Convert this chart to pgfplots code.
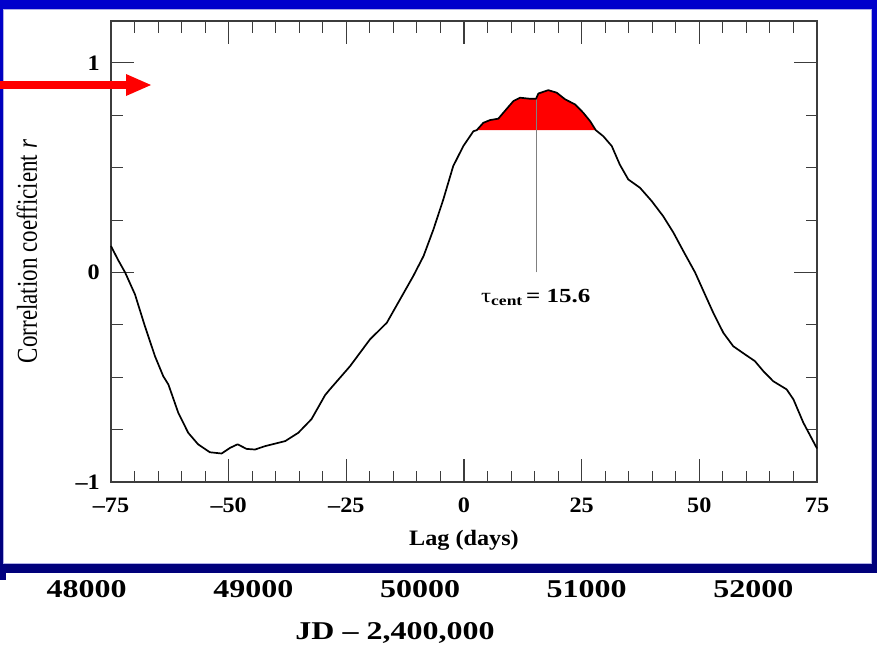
\documentclass[border=0pt]{standalone}
\usepackage{fontspec}
\setmainfont{Liberation Serif}[FakeStretch=1.25]
\newfontfamily\yfont{Liberation Serif}
\newfontfamily\axfont{Liberation Serif}[FakeStretch=1.1]
\usepackage{graphicx}
\usepackage{pgfplots}
\pgfplotsset{compat=1.18}
\definecolor{frametop}{RGB}{0,0,204}
\definecolor{framebot}{RGB}{0,0,122}
\definecolor{framenavy}{RGB}{0,0,128}
\definecolor{axgray}{RGB}{60,60,60}
\pgfplotstableread{
lag r
-75 0.126
-73.5 0.06
-72.0 0.0
-69.9 -0.105
-67.8 -0.256
-65.65 -0.40
-63.9 -0.495
-62.8 -0.535
-60.7 -0.67
-58.6 -0.765
-56.5 -0.82
-54.0 -0.858
-51.5 -0.864
-49.7 -0.837
-48.1 -0.82
-46.2 -0.842
-44.4 -0.845
-42.3 -0.829
-38.0 -0.805
-35.2 -0.765
-32.4 -0.70
-29.5 -0.585
-28.5 -0.558
-24.2 -0.447
-20.0 -0.32
-16.4 -0.24
-13.6 -0.129
-10.8 -0.018
-8.6 0.078
-6.5 0.205
-4.4 0.348
-2.3 0.507
-0.15 0.603
2.0 0.674
2.7 0.679
4.1 0.714
5.5 0.727
7.3 0.734
8.35 0.762
10.5 0.818
11.9 0.834
14.0 0.829
15.3 0.829
15.8 0.854
17.9 0.870
19.7 0.858
21.5 0.826
23.6 0.802
25.35 0.762
26.8 0.722
28.0 0.679
29.6 0.65
31.4 0.603
33.1 0.515
34.9 0.444
37.4 0.404
39.9 0.34
42.3 0.269
44.5 0.19
46.6 0.102
49.1 0.0
51.2 -0.105
52.95 -0.192
55.1 -0.288
57.2 -0.352
59.7 -0.391
61.8 -0.423
63.6 -0.471
65.7 -0.519
68.55 -0.558
70.0 -0.606
72.1 -0.717
75 -0.84
}\ccf
\pgfplotstableread{
lag r
2.7 0.679
4.1 0.714
5.5 0.727
7.3 0.734
8.35 0.762
10.5 0.818
11.9 0.834
14.0 0.829
15.3 0.829
15.8 0.854
17.9 0.870
19.7 0.858
21.5 0.826
23.6 0.802
25.35 0.762
26.8 0.722
28.0 0.679
}\peak
\begin{document}
\begin{tikzpicture}
\useasboundingbox (0,0) rectangle (877bp,-647bp);
\fill[white] (0,0) rectangle (877bp,-647bp);
% slide frame
\shade[top color=frametop, bottom color=framebot] (0,0) rectangle (877bp,-572bp);
\fill[framenavy] (0,-560bp) rectangle (6bp,-580bp);
\fill[white] (3bp,-9bp) rectangle (871bp,-563bp);
\draw[color={rgb,255:red,175;green,175;blue,230}, line width=0.8bp] (3bp,-9bp) rectangle (871bp,-563bp);
\begin{axis}[
  at={(111bp,-482bp)}, anchor=south west,
  scale only axis, width=706bp, height=461bp,
  xmin=-75, xmax=75, ymin=-1, ymax=1.2,
  xtick={-75,-50,-25,0,25,50,75},
  xticklabels={–75,–50,–25,0,25,50,75},
  minor x tick num=4,
  ytick={-1,0,1},
  yticklabels={–1,0,1},
  minor y tick num=3,
  tick align=inside,
  major tick length=23bp,
  minor tick length=11.5bp,
  tick style={color=axgray, line width=1.1bp},
  axis line style={color=axgray, line width=1.5bp},
  xticklabel style={font=\axfont\fontsize{22bp}{26bp}\selectfont\bfseries, inner sep=0pt, anchor=north, yshift=-16bp},
  yticklabel style={font=\axfont\fontsize{22bp}{26bp}\selectfont\bfseries, inner sep=0pt, anchor=east, xshift=-11bp},
  xlabel={Lag (days)},
  xlabel style={font=\axfont\fontsize{22bp}{26bp}\selectfont\bfseries, at={(axis description cs:0.5,0)}, anchor=center, yshift=-58bp},
  ylabel={\scalebox{1}[1.25]{\yfont\fontsize{23bp}{27bp}\selectfont Correlation coefficient \textit{r}}},
  ylabel style={at={(axis description cs:0,0.5)}, anchor=center, yshift=84bp},
  clip=false,
]
\addplot[fill=red, draw=none] table[x=lag,y=r]{\peak} -- cycle;
\addplot[color=gray, line width=1bp] coordinates {(15.5,0) (15.5,0.832)};
\addplot[black, line width=1.7bp, line join=round] table[x=lag,y=r]{\ccf};
\node[anchor=base, inner sep=0pt] at (axis cs:15.25,-0.142)
  {\fontsize{20bp}{24bp}\selectfont τ\textsubscript{\bfseries cent}\,\bfseries = 15.6};
\end{axis}
% red arrow
\fill[red] (0,-81bp) rectangle (127bp,-89bp);
\fill[red] (126bp,-74bp) -- (151bp,-85bp) -- (126bp,-96bp) -- cycle;
% JD axis labels below the panel
\begin{scope}[font=\fontsize{25.6bp}{30bp}\selectfont\bfseries]
\node[anchor=base, inner sep=0pt] at (86.7bp,-597bp) {48000};
\node[anchor=base, inner sep=0pt] at (253.3bp,-597bp) {49000};
\node[anchor=base, inner sep=0pt] at (420bp,-597bp) {50000};
\node[anchor=base, inner sep=0pt] at (586.7bp,-597bp) {51000};
\node[anchor=base, inner sep=0pt] at (753.3bp,-597bp) {52000};
\node[anchor=base, inner sep=0pt] at (395bp,-639bp) {JD – 2,400,000};
\end{scope}
\end{tikzpicture}
\end{document}
